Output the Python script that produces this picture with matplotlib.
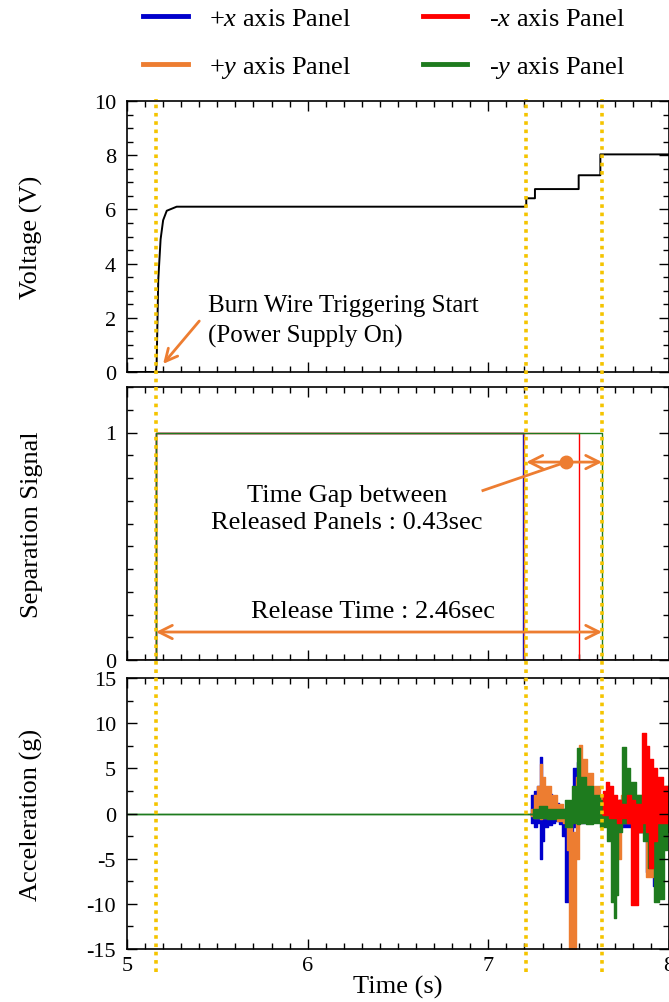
import matplotlib
matplotlib.use('Agg')
import matplotlib.pyplot as plt
import matplotlib.transforms as mtransforms
from matplotlib.lines import Line2D
from matplotlib.ticker import MultipleLocator

plt.rcParams['font.family'] = ['Liberation Serif', 'DejaVu Serif']
plt.rcParams['mathtext.fontset'] = 'custom'
plt.rcParams['mathtext.rm'] = 'Liberation Serif'
plt.rcParams['mathtext.it'] = 'Liberation Serif:italic'
plt.rcParams['axes.unicode_minus'] = False

# colours
c_px = '#0000cc'
c_mx = '#ff0000'
c_py = '#ed7d31'
c_my = '#1e7b1e'
c_ann = '#ed7d31'
c_evt = '#f5c400'

# event times (s): trigger start, first release, last release
event_t = [5.16, 7.21, 7.63]

# Voltage
volt_t = [5.0, 5.16, 5.164, 5.173, 5.186, 5.20, 5.22, 5.275, 7.21, 7.21, 7.258, 7.258, 7.50, 7.50, 7.62, 7.62, 8.0]
volt_v = [0.0, 0.0, 0.3, 3.4, 4.9, 5.6, 5.95, 6.1, 6.1, 6.41, 6.41, 6.75, 6.75, 7.26, 7.26, 8.03, 8.03]

# Separation signal (on at trigger, off at release)
sig_t_px = [5.0, 5.16, 7.19, 8.0]
sig_px = [0, 1, 0, 0]
sig_t_py = [5.0, 5.16, 7.20, 8.0]
sig_py = [0, 1, 0, 0]
sig_t_mx = [5.0, 5.16, 7.50, 8.0]
sig_mx = [0, 1, 0, 0]
sig_t_my = [5.0, 5.16, 7.63, 8.0]
sig_my = [0, 1, 0, 0]

# Acceleration envelopes (g)
acc_t_px = [7.23, 7.24, 7.26, 7.28, 7.29, 7.30, 7.32, 7.34, 7.36, 7.38, 7.40, 7.42, 7.43,
            7.45, 7.46, 7.48, 7.50, 7.52, 7.55, 7.60, 7.65, 7.70, 7.75, 7.80, 7.85, 7.90, 7.92, 7.95, 8.0]
acc_lo_px = [0, -1.0, -1.5, -1.0, -5.0, -3.0, -1.5, -1.3, -1.0, -0.8, -1.2, -2.5, -9.8,
             -9.8, -6.0, -1.5, -0.5, -1.0, -0.5, -0.5, -1.0, -2.0, -1.5, -1.5, -2.0, -6.5, -8.0, -2.0, -1.0]
acc_hi_px = [0, 2.0, 2.5, 3.0, 6.3, 3.5, 2.8, 2.2, 1.8, 1.2, 0.8, 0.5, 0.3,
             -1.0, 0.5, 5.0, 5.7, 4.0, 2.5, 1.5, 1.0, 1.0, 1.5, 0.5, 1.0, 1.0, 0.5, 1.0, 1.0]

acc_t_py = [7.23, 7.24, 7.26, 7.28, 7.29, 7.30, 7.33, 7.36, 7.40, 7.43, 7.44, 7.45, 7.48,
            7.49, 7.51, 7.53, 7.56, 7.60, 7.64, 7.68, 7.70, 7.72, 7.75, 7.80, 7.85, 7.90, 7.92, 7.95, 8.0]
acc_lo_py = [0, -0.3, -0.5, -0.5, -0.6, -0.5, -0.5, -0.5, -0.8, -1.0, -4.0, -16, -16,
             -5.0, -1.0, -0.5, -0.5, -0.5, -0.5, -2.0, -9.0, -5.0, -1.0, -1.0, -2.0, -7.0, -5.0, -1.0, -1.0]
acc_hi_py = [0, 0.5, 2.0, 3.0, 5.5, 4.0, 3.0, 2.0, 1.0, 0.5, 0.0, -1.0, -2.0,
             4.0, 7.6, 6.0, 4.5, 3.0, 2.0, 1.5, 1.0, 1.0, 2.0, 1.5, 2.0, 3.0, 3.0, 2.0, 2.0]

acc_t_my = [5.0, 7.23, 7.26, 7.30, 7.35, 7.40, 7.45, 7.48, 7.50, 7.52, 7.56, 7.60, 7.64, 7.67,
            7.69, 7.70, 7.71, 7.73, 7.75, 7.77, 7.80, 7.84, 7.87, 7.90, 7.93, 7.96, 7.98, 8.0]
acc_lo_my = [0, 0, -0.5, -0.5, -0.6, -0.5, -1.5, -1.0, -1.2, -1.0, -1.2, -1.0, -1.5, -3.0,
             -9.8, -11.6, -9.0, -2.0, -1.0, -1.0, -1.0, -2.0, -3.0, -6.0, -9.8, -9.5, -4.0, -2.0]
acc_hi_my = [0, 0, 0.5, 0.8, 0.5, 0.5, 1.5, 3.0, 7.2, 4.0, 3.0, 2.0, 1.5, 1.0,
             0.5, 0.0, 0.5, 1.5, 7.4, 5.0, 3.5, 2.0, 1.5, 2.0, 1.0, 2.0, 3.0, 3.0]

acc_t_mx = [7.63, 7.64, 7.66, 7.68, 7.70, 7.72, 7.75, 7.78, 7.80, 7.82, 7.84, 7.86, 7.88,
            7.90, 7.92, 7.95, 7.98, 8.0]
acc_lo_mx = [0, -0.2, -0.2, -0.5, -0.5, -1.0, -0.5, -1.0, -10.1, -10.1, -2.0, -1.0, -2.0,
             -6.0, -3.0, -1.0, -1.0, -1.0]
acc_hi_mx = [0, 2.5, 3.5, 3.0, 2.0, 1.5, 1.0, 2.0, 1.5, 1.0, 1.0, 8.9, 7.5,
             6.0, 5.0, 4.0, 3.0, 3.0]

W, H = 6.69, 10.03
fig = plt.figure(figsize=(W, H), dpi=100)
left, width = 127 / 669, 542 / 669
ax1 = fig.add_axes([left, 1 - 373 / 1003, width, 271 / 1003])
ax2 = fig.add_axes([left, 1 - 661 / 1003, width, 273 / 1003])
ax3 = fig.add_axes([left, 1 - 950 / 1003, width, 271 / 1003])

for ax in (ax1, ax2, ax3):
    ax.set_xlim(5, 8)
    ax.xaxis.set_major_locator(MultipleLocator(1))
    ax.xaxis.set_minor_locator(MultipleLocator(0.1))
    ax.tick_params(which='both', direction='in', top=True, right=True, labelsize=16, width=1)
    ax.tick_params(which='major', length=7)
    ax.tick_params(which='minor', length=4)
    ax.tick_params(axis='y', pad=8)
    ax.tick_params(axis='x', pad=5)
    for sp in ax.spines.values():
        sp.set_linewidth(1.2)

# panel 1: voltage
ax1.plot(volt_t, volt_v, color='black', lw=1.4)
ax1.set_ylim(0, 10)
ax1.yaxis.set_major_locator(MultipleLocator(2))
ax1.yaxis.set_minor_locator(MultipleLocator(0.5))
ax1.tick_params(labelbottom=False)
ax1.set_ylabel('Voltage (V)', fontsize=19)
ax1.annotate('', xy=(5.20, 0.3), xytext=(5.40, 1.88),
             arrowprops=dict(arrowstyle='->', color=c_ann, lw=2, mutation_scale=22,
                             shrinkA=0, shrinkB=0))
ax1.text(5.45, 1.9, 'Burn Wire Triggering Start\n(Power Supply On)', fontsize=18,
         ha='left', va='center', linespacing=1.45)

# panel 2: separation signal
ax2.plot(sig_t_px, sig_px, color=c_px, lw=1.0, drawstyle='steps-post')
ax2.plot(sig_t_py, sig_py, color=c_py, lw=1.0, drawstyle='steps-post')
ax2.plot(sig_t_mx, sig_mx, color=c_mx, lw=1.0, drawstyle='steps-post')
ax2.plot(sig_t_my, sig_my, color=c_my, lw=1.0, drawstyle='steps-post')
ax2.set_ylim(0, 1.2)
ax2.set_yticks([0, 1])
ax2.yaxis.set_minor_locator(MultipleLocator(0.1))
ax2.tick_params(labelbottom=False)
ax2.set_ylabel('Separation Signal', fontsize=19)

arr = dict(arrowstyle='<->', color=c_ann, lw=2, mutation_scale=24, shrinkA=0, shrinkB=0)
ax2.annotate('', xy=(event_t[0], 0.123), xytext=(event_t[2], 0.123), arrowprops=arr)
ax2.annotate('', xy=(event_t[1], 0.87), xytext=(event_t[2], 0.87), arrowprops=arr)
ax2.plot([6.97, 7.43], [0.745, 0.87], color=c_ann, lw=2)
ax2.plot([7.43], [0.87], 'o', color=c_ann, ms=9)
ax2.text(6.217, 0.665, 'Time Gap between\nReleased Panels : 0.43sec', fontsize=19,
         ha='center', va='center', linespacing=1.3)
ax2.text(6.36, 0.216, 'Release Time : 2.46sec', fontsize=19, ha='center', va='center')

# panel 3: acceleration
for t, lo, hi, c in [(acc_t_px, acc_lo_px, acc_hi_px, c_px),
                     (acc_t_py, acc_lo_py, acc_hi_py, c_py),
                     (acc_t_my, acc_lo_my, acc_hi_my, c_my),
                     (acc_t_mx, acc_lo_mx, acc_hi_mx, c_mx)]:
    ax3.fill_between(t, lo, hi, step='mid', facecolor=c, edgecolor=c, lw=1.0)
ax3.set_ylim(-15, 15)
ax3.yaxis.set_major_locator(MultipleLocator(5))
ax3.yaxis.set_minor_locator(MultipleLocator(2.5))
ax3.set_ylabel('Acceleration (g)', fontsize=19)
ax3.set_xlabel('Time (s)', fontsize=19, labelpad=0)

for ax in (ax1, ax2, ax3):
    ax.yaxis.set_label_coords(-0.155, 0.5)

# event markers across all panels
trans = mtransforms.blended_transform_factory(ax3.transData, fig.transFigure)
for t in event_t:
    fig.add_artist(Line2D([t, t], [0.03, 0.90], transform=trans, color=c_evt, lw=2.6,
                          linestyle=(0, (1, 1.3)), clip_on=False, zorder=5))

handles = [Line2D([], [], color=c_px, lw=3.5), Line2D([], [], color=c_py, lw=3.5),
           Line2D([], [], color=c_mx, lw=3.5), Line2D([], [], color=c_my, lw=3.5)]
labels = ['+$x$ axis Panel', '+$y$ axis Panel', '-$x$ axis Panel', '-$y$ axis Panel']
fig.legend(handles, labels, ncol=2, loc='upper left', bbox_to_anchor=(143 / 669, 1 - 8 / 1003),
           frameon=False, fontsize=19, handlelength=1.7, handletextpad=0.8,
           columnspacing=2.7, labelspacing=0.9, borderpad=0, borderaxespad=0)

fig.savefig('out.png', dpi=100)
